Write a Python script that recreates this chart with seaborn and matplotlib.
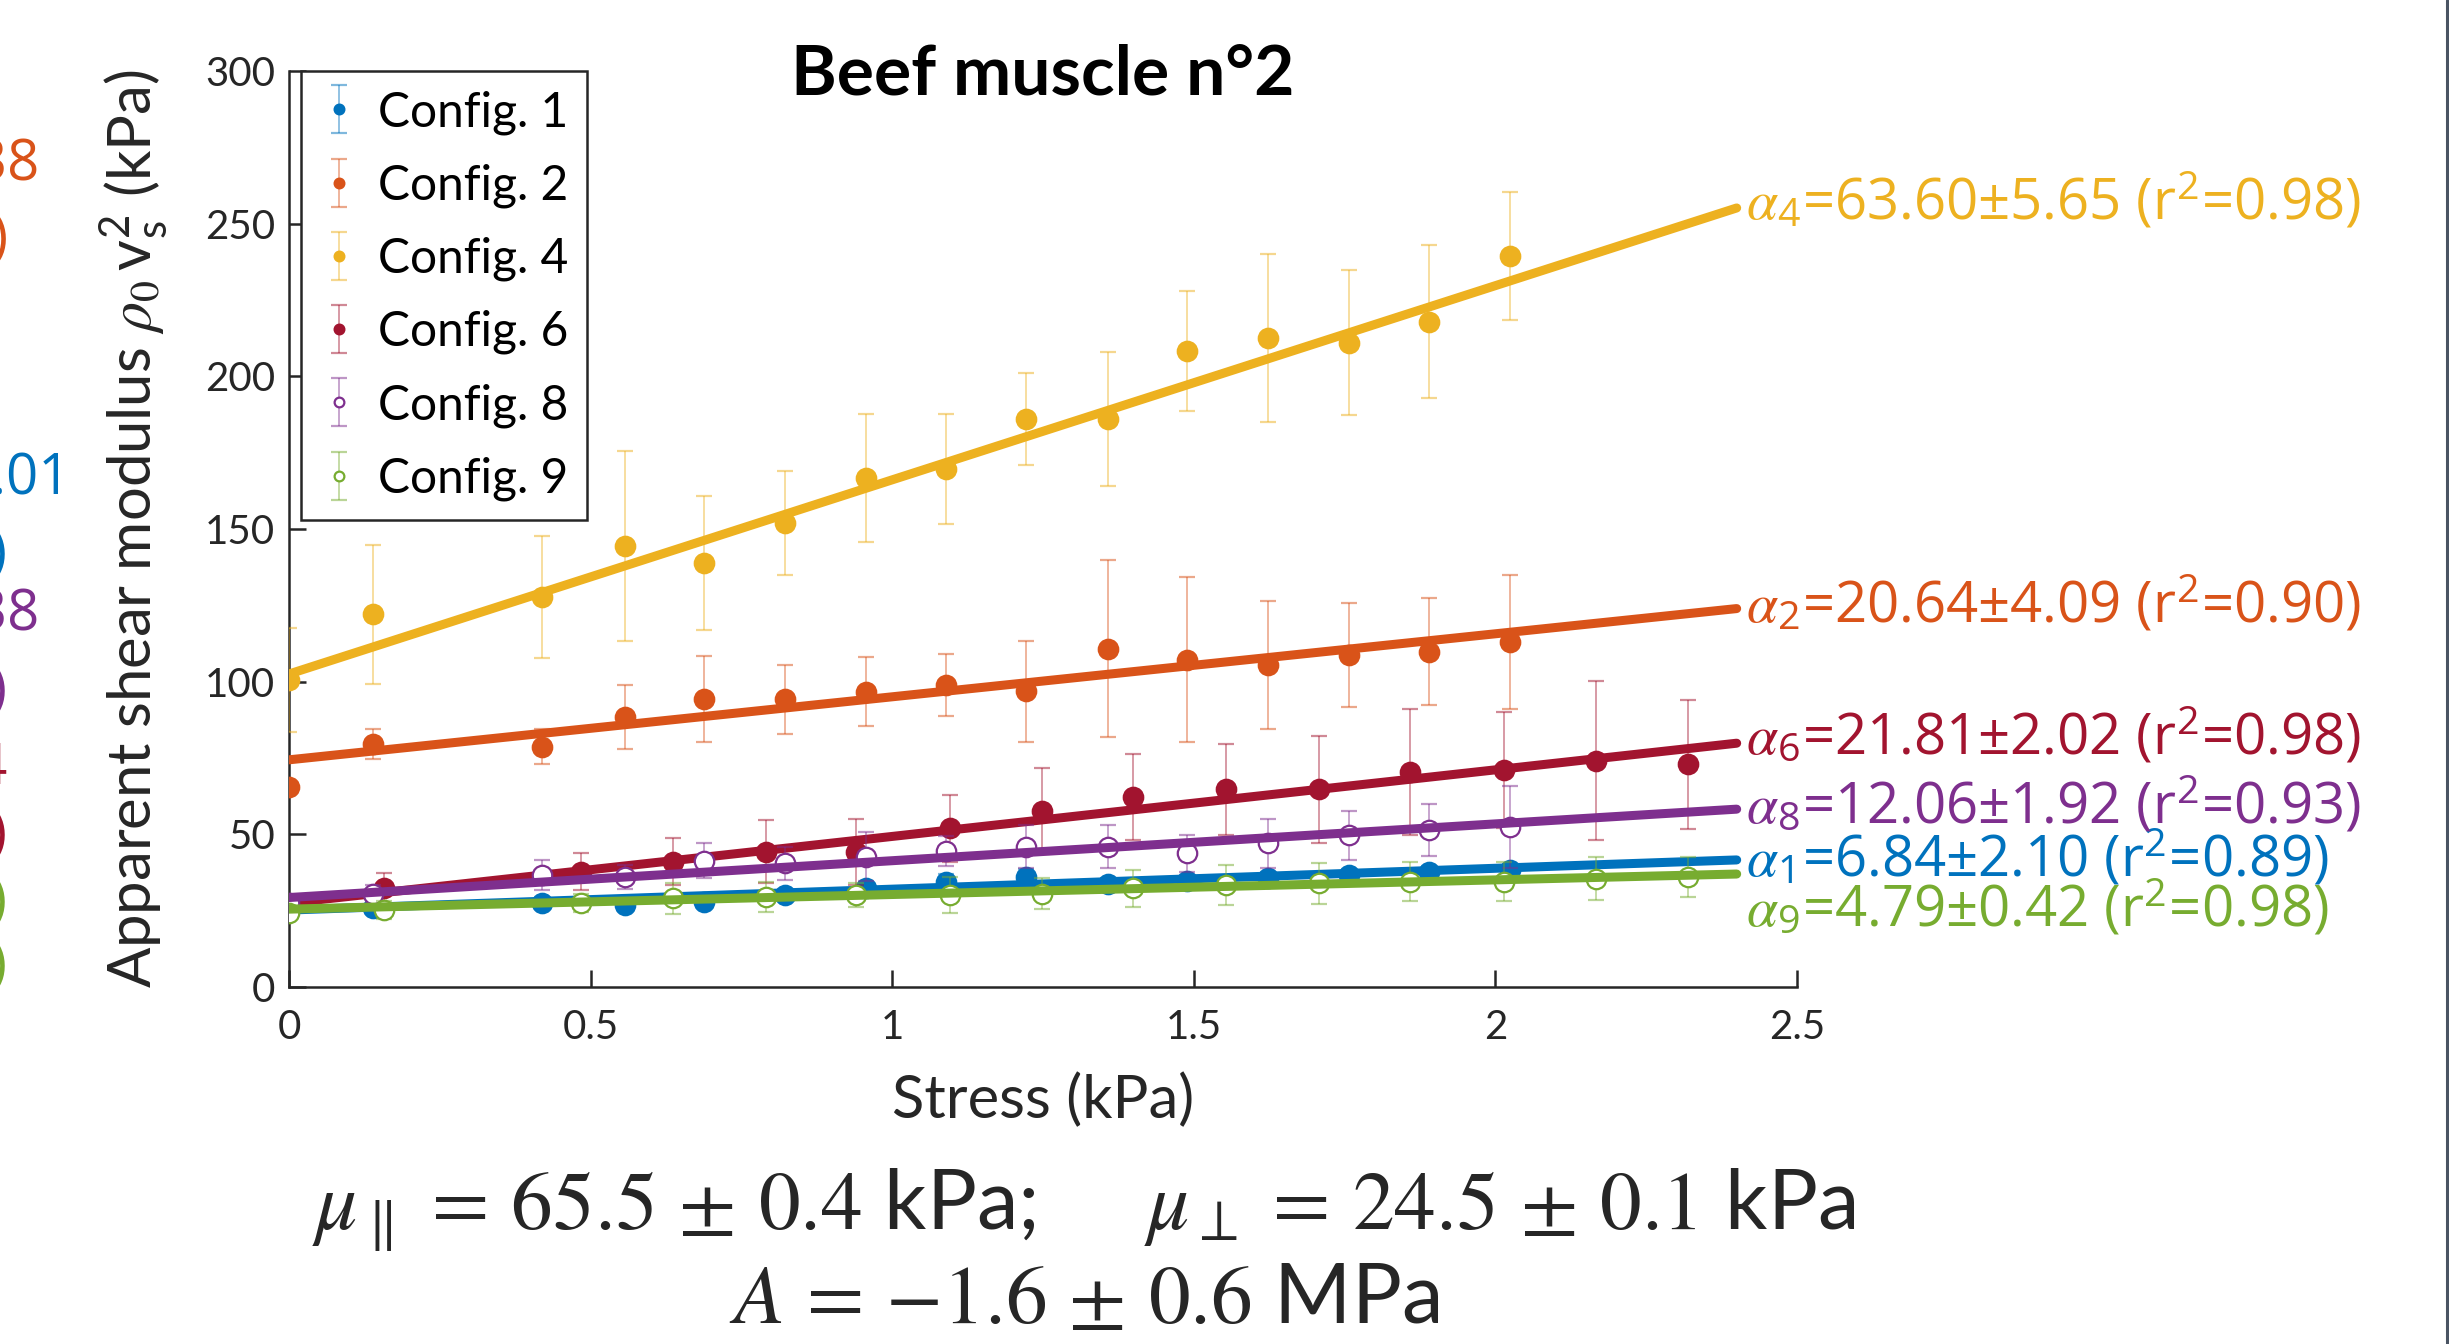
import matplotlib
matplotlib.use("Agg")
import matplotlib.pyplot as plt
from matplotlib.lines import Line2D
from matplotlib.colors import to_rgba
import seaborn as sns
import pandas as pd

# stress levels (kPa) of the two loading sequences
stress_a = [0, 0.14, 0.42, 0.557, 0.688, 0.822, 0.957, 1.089, 1.222, 1.357, 1.489, 1.623, 1.757, 1.89, 2.025]
stress_b = [0, 0.158, 0.484, 0.636, 0.79, 0.94, 1.095, 1.248, 1.40, 1.553, 1.707, 1.859, 2.014, 2.167, 2.32]

# apparent shear modulus (kPa) and std for each configuration
mod_1 = [25.0, 25.8, 27.4, 26.8, 27.9, 30.1, 32.3, 34.5, 36.1, 33.8, 34.8, 35.6, 36.6, 37.5, 38.2]
err_1 = [1.5, 1.5, 2.0, 2.0, 2.0, 2.0, 2.0, 2.5, 2.5, 2.0, 2.0, 2.0, 2.0, 2.0, 2.0]
mod_2 = [65.6, 79.6, 78.7, 88.5, 94.3, 94.3, 96.7, 98.9, 96.9, 110.8, 107.2, 105.4, 108.7, 109.8, 113.0]
err_2 = [1.0, 4.8, 5.7, 10.5, 14.2, 11.3, 11.3, 10.0, 16.5, 29.0, 27.0, 21.0, 17.0, 17.5, 22.0]
mod_4 = [100.5, 122.0, 127.8, 144.4, 138.8, 151.9, 166.6, 169.6, 186.0, 186.0, 208.3, 212.5, 211.0, 217.9, 239.3]
err_4 = [17.0, 22.7, 20.0, 31.0, 22.0, 17.0, 21.0, 18.0, 15.0, 22.0, 19.6, 27.5, 23.7, 25.0, 21.0]
mod_6 = [26.8, 32.3, 37.8, 41.0, 44.3, 44.1, 52.0, 57.7, 62.3, 64.7, 64.7, 70.5, 71.0, 74.1, 72.9]
err_6 = [3.0, 5.0, 6.0, 7.7, 10.4, 10.8, 11.0, 14.0, 14.0, 15.0, 17.5, 20.6, 19.0, 26.0, 21.0]
mod_8 = [27.5, 30.5, 36.7, 36.1, 41.4, 40.5, 42.7, 44.6, 45.9, 45.9, 43.8, 47.0, 49.7, 51.4, 52.5]
err_8 = [2.0, 3.0, 5.0, 4.0, 5.6, 5.5, 8.0, 5.0, 7.0, 7.0, 6.0, 8.0, 8.0, 8.5, 13.4]
mod_9 = [24.1, 25.2, 27.4, 29.0, 29.4, 30.1, 30.1, 30.6, 32.3, 33.4, 33.9, 34.5, 34.5, 35.5, 36.1]
err_9 = [2.0, 3.0, 3.0, 5.0, 5.0, 4.0, 6.0, 5.0, 6.0, 6.5, 6.8, 6.5, 6.5, 7.0, 6.5]

# linear fits: intercept (kPa) and slope alpha, alpha error, r^2
configs = ["Config. 1", "Config. 2", "Config. 4", "Config. 6", "Config. 8", "Config. 9"]
fit_intercept = [25.2, 74.4, 102.5, 27.5, 29.3, 25.5]
alpha = [6.84, 20.64, 63.60, 21.81, 12.06, 4.79]
alpha_err = [2.10, 4.09, 5.65, 2.02, 1.92, 0.42]
r2 = [0.89, 0.90, 0.98, 0.98, 0.93, 0.98]
fit_range = [0, 2.4]

# MATLAB default colours
colors = ["#0072BD", "#D95319", "#EDB120", "#A2142F", "#7E2F8E", "#77AC30"]
xs = [stress_a, stress_a, stress_a, stress_b, stress_a, stress_b]
ys = [mod_1, mod_2, mod_4, mod_6, mod_8, mod_9]
es = [err_1, err_2, err_4, err_6, err_8, err_9]
filled = [True, True, True, True, False, False]
subs = ["1", "2", "4", "6", "8", "9"]
label_y = [36.1, 119.5, 251.5, 76.0, 53.5, 19.8]

sns.set_style("ticks")
plt.rcParams["font.family"] = ["Lato", "DejaVu Sans"]
plt.rcParams["mathtext.fontset"] = "stix"

fig = plt.figure(figsize=(24.49, 13.44), dpi=100)
ax = fig.add_axes([0.11801, 0.26563, 0.61576, 0.68155])

for i in range(6):
    c = colors[i]
    ax.errorbar(xs[i], ys[i], yerr=es[i], fmt="o", ms=14,
                mfc=c if filled[i] else "white", mec=c, mew=1.6,
                ecolor=to_rgba(c, 0.5), elinewidth=1.2, capsize=6, capthick=1.2,
                label=configs[i], zorder=2 + i)
    fit = pd.DataFrame({"x": fit_range,
                        "y": [fit_intercept[i] + alpha[i] * fit_range[0],
                              fit_intercept[i] + alpha[i] * fit_range[1]]})
    sns.lineplot(data=fit, x="x", y="y", ax=ax, color=c, lw=6.5,
                 legend=False, zorder=2.5 + i)
    ax.text(2.415, label_y[i],
            r"$\alpha_\mathregular{%s}$=%.2f±%.2f (r$^\mathregular{2}$=%.2f)" % (subs[i], alpha[i], alpha_err[i], r2[i]),
            color=c, fontsize=40.5, family="Open Sans", ha="left", va="baseline",
            clip_on=False)

ax.set_xlim(0, 2.5)
ax.set_ylim(0, 300)
ax.set_xticks([0, 0.5, 1, 1.5, 2, 2.5])
ax.set_xticklabels(["0", "0.5", "1", "1.5", "2", "2.5"])
ax.set_yticks([0, 50, 100, 150, 200, 250, 300])
ax.tick_params(direction="in", length=12, width=1.8, colors="#262626",
               labelsize=29, labelcolor="#262626")
ax.tick_params(axis="x", pad=16)
ax.tick_params(axis="y", pad=10)
sns.despine(ax=ax)
for s in ["left", "bottom"]:
    ax.spines[s].set_linewidth(1.8)
    ax.spines[s].set_color("#262626")

ax.set_xlabel("Stress (kPa)", fontsize=43, color="#262626")
ax.xaxis.set_label_coords(0.5, -0.124)
ax.xaxis.label.set_va("center")
ax.set_ylabel(r"Apparent shear modulus $\rho_0\,\mathregular{v}_\mathregular{s}^\mathregular{2}$ (kPa)",
              fontsize=43, color="#262626")
ax.yaxis.set_label_coords(-0.103, 0.5)
ax.yaxis.label.set_va("center")

ax.text(0.5, 0.9956, "Beef muscle n°2", transform=ax.transAxes, ha="center",
        va="center", fontsize=50, weight="bold", color="black")

handles, labels = ax.get_legend_handles_labels()
leg = ax.legend(handles, labels, loc="upper left", bbox_to_anchor=(0.008, 1.0),
                borderaxespad=0, fontsize=34.5, markerscale=0.5, handlelength=0.8,
                handletextpad=0.4, labelspacing=0.6, borderpad=0.4,
                fancybox=False, framealpha=1)
leg.get_frame().set_edgecolor("#262626")
leg.get_frame().set_linewidth(1.8)
for t in leg.get_texts():
    t.set_color("black")

# formulas below the axes
fig.text(1084 / 2449, 1 - 1210 / 1344,
         r"$\mu_{\parallel}\, =\, 65.5\, \pm\, 0.4$ kPa;     $\mu_{\perp}\, =\, 24.5\, \pm\, 0.1$ kPa",
         ha="center", va="center", fontsize=60)
fig.text(1084 / 2449, 1 - 1300 / 1344, r"$A\, =\, {-}1.6\, \pm\, 0.6$ MPa",
         ha="center", va="center", fontsize=60)

# pieces of the neighbouring panel cut by the left border
frag = [("4.38", 40, 166, 1), ("0.90)", 8, 241, 1), ("2.01", 71, 480, 0), ("0.89)", 7, 556, 0),
        ("4.38", 40, 616, 4), ("0.93)", 7, 693, 4), ("1.94", 8, 770, 3), ("0.98)", 7, 837, 3),
        ("0.98)", 7, 904, 5), ("0.98)", 7, 968, 5)]
for txt, fx, fy, ci in frag:
    fig.text(fx / 2449, 1 - fy / 1344, txt, ha="right", va="center", fontsize=40.5,
             family="Open Sans", color=colors[ci])

# border of the next panel on the right
fig.add_artist(Line2D([0.99906, 0.99906], [0, 1], transform=fig.transFigure,
                      color="#4a5463", lw=2.2))

fig.savefig("out.png", dpi=100, facecolor="white")
